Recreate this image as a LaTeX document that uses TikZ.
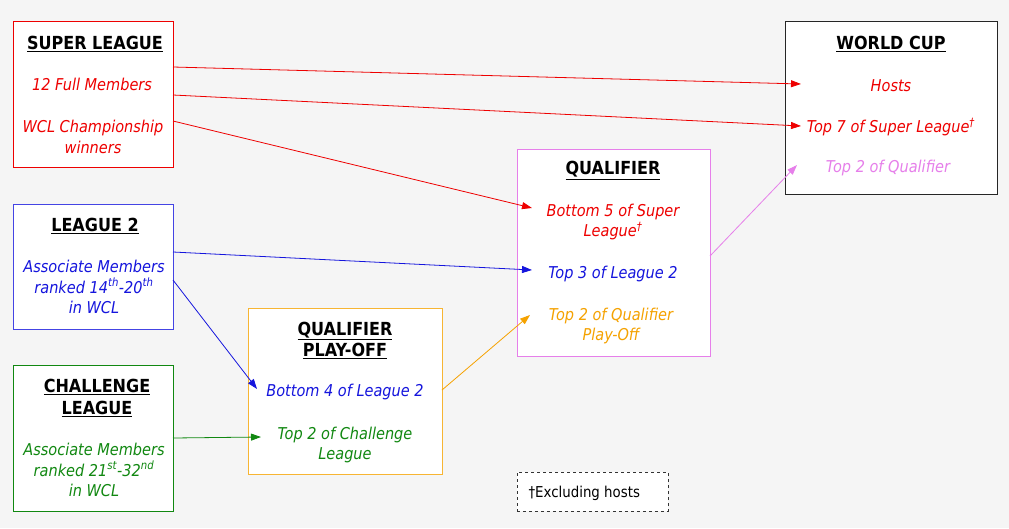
\documentclass[tikz,border=0pt]{standalone}
\usepackage{fontspec}
\setmainfont{DejaVu Sans}[FakeStretch=0.89]
\usetikzlibrary{arrows.meta}
\definecolor{cred}{HTML}{EE0000}
\definecolor{cblue}{HTML}{1515DD}
\definecolor{cgreen}{HTML}{118811}
\definecolor{corange}{HTML}{F5A200}
\definecolor{cviolet}{HTML}{E67FEA}
\definecolor{bgc}{HTML}{F5F5F5}
\tikzset{
  box/.style={draw, fill=white, line width=1pt, inner sep=0pt},
  ttl/.style={font=\fontsize{18}{21.5}\selectfont\bfseries, align=center, text=black},
  itm/.style={font=\fontsize{16.3}{20.5}\selectfont\itshape, align=center},
  arr/.style={line width=0.8pt, -{Triangle[length=10pt,width=7pt]}},
}
\newcommand{\ul}[1]{\underline{#1}}
\begin{document}
\begin{tikzpicture}[x=1pt,y=-1pt]
\fill[bgc] (0,0) rectangle (1009,528);
\useasboundingbox (0,0) rectangle (1009,528);
% boxes
\node[box, draw=cred, minimum width=160pt, minimum height=146pt] (sl) at (93,94) {};
\node[box, draw=cblue!80, minimum width=160pt, minimum height=125pt] (l2) at (93,266.5) {};
\node[box, draw=cgreen, minimum width=160pt, minimum height=146pt] (cl) at (93,438) {};
\node[box, draw=corange!80, minimum width=194pt, minimum height=166pt] (po) at (345,391) {};
\node[box, draw=cviolet, minimum width=193pt, minimum height=207pt] (qu) at (613.5,252.5) {};
\node[box, draw=black!85, minimum width=212pt, minimum height=173pt] (wc) at (891,107.5) {};
\node[box, draw=black!80, dashed, minimum width=151pt, minimum height=39pt] (fn) at (592.5,491.5) {};
% super league
\node[ttl] (slt) at (95,43.5) {\ul{SUPER LEAGUE}};
\node[itm, text=cred] (sla) at (92,84) {12 Full Members};
\node[itm, text=cred] (slb) at (93,137) {WCL Championship\\winners};
% league 2
\node[ttl] (l2t) at (95,225.5) {\ul{LEAGUE 2}};
\node[itm, text=cblue] (l2a) at (94,287) {Associate Members\\ranked 14\textsuperscript{th}-20\textsuperscript{th}\\in WCL};
% challenge league
\node[ttl] (clt) at (97,398) {\ul{CHALLENGE}\\\ul{LEAGUE}};
\node[itm, text=cgreen] (cla) at (94,470) {Associate Members\\ranked 21\textsuperscript{st}-32\textsuperscript{nd}\\in WCL};
% play-off
\node[ttl] (pot) at (345,340.5) {\ul{QUALIFIER}\\\ul{PLAY-OFF}};
\node[itm, text=cblue] (poa) at (345,392) {Bottom 4 of League 2};
\node[itm, text=cgreen] (pob) at (345,445) {Top 2 of Challenge\\League};
% qualifier
\node[ttl] (qut) at (613,170.5) {\ul{QUALIFIER}};
\node[itm, text=cred] (qua) at (613,222) {Bottom 5 of Super\\League\textsuperscript{\dag}};
\node[itm, text=cblue] (qub) at (613,274) {Top 3 of League 2};
\node[itm, text=corange] (quc) at (611,326) {Top 2 of Qualifier\\Play-Off};
% world cup
\node[ttl] (wct) at (891,43.5) {\ul{WORLD CUP}};
\node[itm, text=cred] (wca) at (891,86) {Hosts};
\node[itm, text=cred] (wcb) at (891,127) {Top 7 of Super League\textsuperscript{\dag}};
\node[itm, text=cviolet] (wcc) at (888,168) {Top 2 of Qualifier};
% footnote
\node[font=\fontsize{15}{17}\selectfont, anchor=west] (fnt) at (525,493) {\dag Excluding hosts};
% arrow anchors
\coordinate (s1) at (173,67);
\coordinate (s2) at (173,95);
\coordinate (s3) at (173,121);
\coordinate (b1) at (173,252);
\coordinate (b2) at (173,280);
\coordinate (g1) at (173,438);
\coordinate (o1) at (442,390);
\coordinate (v1) at (710,256);
\coordinate (tH) at (801,84);
\coordinate (tT) at (801,126);
\coordinate (tQ) at (797,165);
\coordinate (qA) at (532,208);
\coordinate (qB) at (532,270);
\coordinate (qC) at (530,315);
\coordinate (pA) at (257,389);
\coordinate (pB) at (261,437);
% arrows
\draw[arr, cred] (s1) -- (tH);
\draw[arr, cred] (s2) -- (tT);
\draw[arr, cred] (s3) -- (qA);
\draw[arr, cblue] (b1) -- (qB);
\draw[arr, cblue] (b2) -- (pA);
\draw[arr, cgreen] (g1) -- (pB);
\draw[arr, corange] (o1) -- (qC);
\draw[arr, cviolet] (v1) -- (tQ);
\end{tikzpicture}
\end{document}
